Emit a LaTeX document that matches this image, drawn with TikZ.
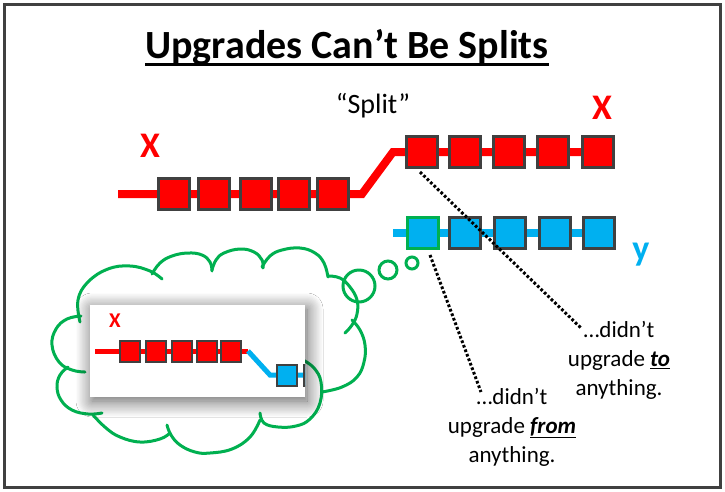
\documentclass[tikz,border=0pt]{standalone}
\usepackage{fontspec}
\setmainfont{Carlito}
\usetikzlibrary{shadows.blur}
\definecolor{redc}{RGB}{255,0,0}
\definecolor{bluec}{RGB}{0,176,240}
\definecolor{greenc}{RGB}{0,176,80}
\definecolor{edgec}{RGB}{64,64,64}
\tikzset{
  rsq/.style={draw=edgec, line width=3, fill=redc, minimum width=31, minimum height=31, inner sep=0},
  bsq/.style={rsq, fill=bluec},
  rsqs/.style={draw=edgec, line width=2, fill=redc, minimum width=20, minimum height=21, inner sep=0},
  bsqs/.style={rsqs, fill=bluec},
  redline/.style={redc, line width=8},
  blueline/.style={bluec, line width=8},
  dotline/.style={black, line width=3, dash pattern=on 2.7pt off 2.1pt},
  bigx/.style={font=\bfseries\fontsize{36}{36}\selectfont, inner sep=0},
  body/.style={font=\fontsize{23}{29}\selectfont, align=center, inner sep=0},
  greenring/.style={circle, draw=greenc, line width=3, inner sep=0},
  puff/.style={draw=greenc, line width=3, line cap=round},
}
\begin{document}
\begin{tikzpicture}[x=1pt,y=-1pt]
\useasboundingbox (0,0) rectangle (725,491);
\fill[white] (0,0) rectangle (725,491);
\draw[edgec, line width=3] (4.5,4.5) rectangle (720.5,487);

% title
\node[inner sep=0, font=\bfseries\fontsize{40}{44}\selectfont] (title) at (347,47) {Upgrades Can’t Be Splits};
\draw[line width=3] ([yshift=-6pt]title.base west) -- ([yshift=-6pt]title.base east);

\node[inner sep=0, font=\fontsize{28}{30}\selectfont] (split) at (373,106) {“Split”};
\node[bigx, text=redc] (x1) at (150,146) {X};
\node[bigx, text=redc] (x2) at (602,108) {X};
\node[bigx, text=bluec] (y1) at (641,255) {y};

% chains
\coordinate (rs) at (118,194);
\coordinate (rb1) at (362,194);
\coordinate (rb2) at (393,152);
\coordinate (re) at (612,152);
\draw[redline] (rs) -- (rb1) -- (rb2) -- (re);
\coordinate (bs) at (393,233);
\coordinate (be) at (614,233);
\draw[blueline] (bs) -- (be);

\foreach \i/\x in {1/173.5,2/213.5,3/256,4/294,5/333}
  \node[rsq] (a\i) at (\x,194) {};
\foreach \i/\x in {1/422,2/465,3/509,4/553,5/598}
  \node[rsq] (b\i) at (\x,152) {};
\foreach \i/\x in {2/465,3/510,4/555,5/599}
  \node[bsq] (c\i) at (\x,233) {};
\node[bsq, draw=greenc] (c1) at (423,233) {};

% annotations
\node[body] (t1) at (619,360) {…didn’t\\upgrade \underline{\textbf{\textit{to}}}\\anything.};
\node[body] (t2) at (512,427) {…didn’t\\upgrade \underline{\textbf{\textit{from}}}\\anything.};
\coordinate (d1s) at (420,172);
\coordinate (d1e) at (581,328);
\coordinate (d2s) at (430,255);
\coordinate (d2e) at (481,392);
\draw[dotline] (d1s) -- (d1e);
\draw[dotline] (d2s) -- (d2e);

% thought cloud
\draw[puff] plot[smooth, tension=0.7] coordinates {(80,322) (78,300) (88,282) (108,269) (130,266) (150,271) (162,279)};
\draw[puff] plot[smooth, tension=0.7] coordinates {(152,274) (160,263) (172,256) (188,253) (202,255) (210,262) (212,271)};
\draw[puff] plot[smooth, tension=0.7] coordinates {(212,270) (216,260) (224,253) (240,249) (254,252) (262,260) (263,268)};
\draw[puff] plot[smooth, tension=0.7] coordinates {(262,267) (270,256) (282,250) (300,248) (315,253) (324,263) (328,277)};
\draw[puff] plot[smooth, tension=0.7] coordinates {(328,276) (340,278) (350,287) (357,300) (357,314) (352,325) (345,333)};
\draw[puff] plot[smooth, tension=0.7] coordinates {(352,320) (360,330) (365,345) (364,362) (357,377) (342,387) (322,392)};
\draw[puff] plot[smooth, tension=0.7] coordinates {(303,360) (314,368) (321,382) (320,403) (310,419) (296,426) (278,427) (264,423) (260,413)};
\draw[puff] plot[smooth, tension=0.7] coordinates {(260,420) (250,437) (232,449) (210,453) (195,452) (180,445) (171,435) (167,425)};
\draw[puff] plot[smooth, tension=0.7] coordinates {(170,433) (160,439) (140,442) (120,437) (106,428) (93,415)};
\draw[puff] plot[smooth, tension=0.7] coordinates {(102,413) (88,414) (72,410) (61,400) (57,387) (60,375) (68,367)};
\draw[puff] plot[smooth, tension=0.7] coordinates {(85,372) (72,370) (59,362) (52,345) (56,329) (67,319) (81,316)};
\node[greenring, minimum size=32] (r1) at (359,286) {};
\node[greenring, minimum size=18] (r2) at (388,270) {};
\node[greenring, minimum size=12] (r3) at (412,263) {};

\node[fill=white, minimum width=215, minimum height=92, inner sep=0,
      blur shadow={shadow xshift=2pt, shadow yshift=-4pt, shadow blur radius=16pt, shadow opacity=65, shadow blur steps=14}] (pic) at (197.5,351) {};
\begin{scope}
\clip (pic.south west) rectangle (pic.north east);
\node[font=\bfseries\fontsize{21}{21}\selectfont, text=redc, inner sep=0] (x3) at (115,321) {X};
\coordinate (ps) at (95,351);
\coordinate (pb1) at (248,351);
\coordinate (pb2) at (270,375);
\coordinate (pe) at (310,375);
\draw[redc, line width=5] (ps) -- (pb1);
\draw[bluec, line width=5] (pb1) -- (pb2) -- (pe);
\foreach \i/\x in {1/130,2/156,3/182,4/207,5/231}
  \node[rsqs] (p\i) at (\x,351) {};
\node[bsqs] (q1) at (287,375) {};
\node[bsqs] (q2) at (314,375) {};
\end{scope}
\end{tikzpicture}
\end{document}
